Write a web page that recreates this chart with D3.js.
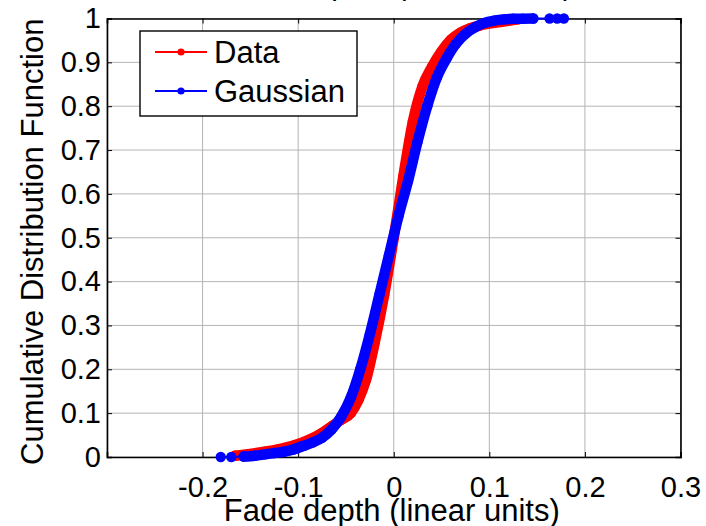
<!DOCTYPE html>
<html>
<head>
<meta charset="utf-8">
<script src="https://cdn.jsdelivr.net/npm/d3@7"></script>
<style>
  body { margin: 0; background: #fff; }
  svg text { font-family: Arial, "Liberation Sans", sans-serif; fill: #000; }
</style>
</head>
<body>
<svg id="chart" width="706" height="526"></svg>
<script>
// ---- data ----
const titleText = "Fade depths (all locations)";
const xLabel = "Fade depth (linear units)";
const yLabel = "Cumulative Distribution Function";

const xTicks = [-0.3, -0.2, -0.1, 0, 0.1, 0.2, 0.3];
const xTickLabels = ["", "-0.2", "-0.1", "0", "0.1", "0.2", "0.3"];
const yTicks = [0, 0.1, 0.2, 0.3, 0.4, 0.5, 0.6, 0.7, 0.8, 0.9, 1];
const yTickLabels = ["0", "0.1", "0.2", "0.3", "0.4", "0.5", "0.6", "0.7", "0.8", "0.9", "1"];

// empirical CDF of the data (dense band)
const dataX = [-0.166, -0.150, -0.135, -0.120, -0.105, -0.090, -0.075, -0.065, -0.055, -0.045,
               -0.037, -0.029, -0.020, -0.010, 0.000, 0.010, 0.020, 0.030, 0.040, 0.050,
               0.060, 0.070, 0.080, 0.090, 0.105, 0.120, 0.130];
const dataP = [0.003, 0.007, 0.012, 0.018, 0.026, 0.038, 0.055, 0.070, 0.085, 0.100,
               0.130, 0.176, 0.260, 0.370, 0.500, 0.640, 0.765, 0.845, 0.890, 0.925,
               0.952, 0.968, 0.978, 0.984, 0.990, 0.995, 0.998];

// Gaussian CDF (dense band)
const gaussX = [-0.157, -0.145, -0.135, -0.125, -0.115, -0.105, -0.095, -0.085, -0.075, -0.065,
                -0.055, -0.045, -0.035, -0.025, -0.015, -0.005, 0.005, 0.015, 0.025, 0.035,
                0.045, 0.055, 0.065, 0.075, 0.085, 0.095, 0.105, 0.115, 0.125, 0.135, 0.146];
const gaussP = [0.001, 0.003, 0.006, 0.009, 0.012, 0.017, 0.025, 0.033, 0.044, 0.063,
                0.092, 0.135, 0.200, 0.280, 0.370, 0.460, 0.550, 0.630, 0.720, 0.800,
                0.865, 0.908, 0.942, 0.965, 0.980, 0.990, 0.995, 0.998, 0.9993, 0.9997, 1.0];
// isolated extreme samples of the Gaussian series
const gaussTailLoX = [-0.181, -0.170];
const gaussTailLoP = [0, 0];
const gaussTailHiX = [0.163, 0.171, 0.178];
const gaussTailHiP = [1, 1, 1];

const legendNames = ["Data", "Gaussian"];
const seriesColors = ["#ff0000", "#0000ff"];

// ---- layout ----
const svg = d3.select("#chart");
const x = d3.scaleLinear().domain([-0.3, 0.3]).range([107, 680.5]);
const y = d3.scaleLinear().domain([0, 1]).range([457, 18.5]);

const zip = (xs, ps) => xs.map((v, i) => [v, ps[i]]);

// grid
svg.append("g").selectAll("line.gx")
  .data(xTicks).enter().append("line")
  .attr("x1", d => x(d)).attr("x2", d => x(d))
  .attr("y1", y(0)).attr("y2", y(1))
  .attr("stroke", "#b4b4b4").attr("stroke-width", 1);
svg.append("g").selectAll("line.gy")
  .data(yTicks).enter().append("line")
  .attr("x1", x(-0.3)).attr("x2", x(0.3))
  .attr("y1", d => y(d)).attr("y2", d => y(d))
  .attr("stroke", "#b4b4b4").attr("stroke-width", 1);

// axes (ticks point inward on all four sides)
const fmtX = d => xTickLabels[xTicks.indexOf(d)];
const fmtY = d => yTickLabels[yTicks.indexOf(d)];

const axB = svg.append("g").attr("transform", `translate(0,${y(0)})`)
  .call(d3.axisBottom(x).tickValues(xTicks).tickFormat(fmtX).tickSize(-5).tickPadding(19));
const axL = svg.append("g").attr("transform", `translate(${x(-0.3)},0)`)
  .call(d3.axisLeft(y).tickValues(yTicks).tickFormat(fmtY).tickSize(-5).tickPadding(6));
const axT = svg.append("g").attr("transform", `translate(0,${y(1)})`)
  .call(d3.axisTop(x).tickValues(xTicks).tickFormat("").tickSize(-5));
const axR = svg.append("g").attr("transform", `translate(${x(0.3)},0)`)
  .call(d3.axisRight(y).tickValues(yTicks).tickFormat("").tickSize(-5));

[axB, axL, axT, axR].forEach(g => {
  g.select(".domain").attr("stroke", "#000").attr("stroke-width", 1.6);
  g.selectAll(".tick line").attr("stroke", "#000");
  g.selectAll("text").style("font-size", "29px").attr("fill", "#000");
});

// axis labels and title
svg.append("text")
  .attr("x", (x(-0.3) + x(0.3)) / 2 - 2).attr("y", 521)
  .attr("text-anchor", "middle").style("font-size", "31px")
  .text(xLabel);
svg.append("text")
  .attr("transform", `translate(43,${(y(0) + y(1)) / 2 + 4}) rotate(-90)`)
  .attr("text-anchor", "middle").style("font-size", "31px")
  .text(yLabel);
svg.append("text")
  .attr("x", 397).attr("y", -5)
  .attr("text-anchor", "middle").style("font-size", "30px")
  .text(titleText);

// curves
const line = d3.line().x(d => x(d[0])).y(d => y(d[1])).curve(d3.curveMonotoneX);

function drawSeries(band, all, color) {
  const g = svg.append("g");
  g.append("path").datum(all).attr("d", line)
    .attr("fill", "none").attr("stroke", color).attr("stroke-width", 2);
  g.append("path").datum(band).attr("d", line)
    .attr("fill", "none").attr("stroke", color).attr("stroke-width", 10.5)
    .attr("stroke-linejoin", "round").attr("stroke-linecap", "round");
  g.selectAll("circle").data(all).enter().append("circle")
    .attr("cx", d => x(d[0])).attr("cy", d => y(d[1])).attr("r", 5.2)
    .attr("fill", color);
}

const dataPts = zip(dataX, dataP);
drawSeries(dataPts, dataPts, seriesColors[0]);

const gaussBand = zip(gaussX, gaussP);
const gaussAll = zip(gaussTailLoX, gaussTailLoP).concat(gaussBand, zip(gaussTailHiX, gaussTailHiP));
drawSeries(gaussBand, gaussAll, seriesColors[1]);

// legend
const lg = svg.append("g");
lg.append("rect").attr("x", 140).attr("y", 31).attr("width", 217).attr("height", 85)
  .attr("fill", "#fff").attr("stroke", "#000").attr("stroke-width", 1.4);
legendNames.forEach((name, i) => {
  const cy = 52 + i * 39;
  lg.append("line").attr("x1", 155).attr("x2", 207).attr("y1", cy).attr("y2", cy)
    .attr("stroke", seriesColors[i]).attr("stroke-width", 2.2);
  lg.append("circle").attr("cx", 181).attr("cy", cy).attr("r", 3.6).attr("fill", seriesColors[i]);
  lg.append("text").attr("x", 214).attr("y", cy).attr("dy", "0.36em")
    .style("font-size", "31px").text(name);
});
</script>
</body>
</html>
